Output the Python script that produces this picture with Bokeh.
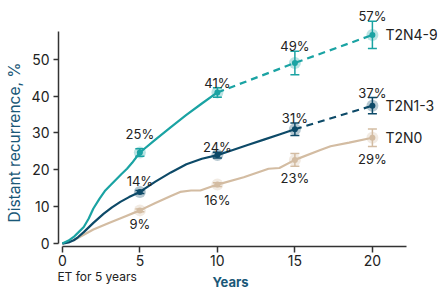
import math
from bokeh.plotting import figure
from bokeh.models import (ColumnDataSource, Whisker, TeeHead, Title, FixedTicker, Range1d,
                          LinearAxis)
from bokeh.core.properties import value
from bokeh.embed import file_html
from bokeh.resources import INLINE

# ---------------- data ----------------
mark_years = [5, 10, 15, 20]

n49_mark = [24.7, 41.0, 49.0, 56.6]
n49_err = [1.0, 1.3, 3.2, 3.7]
n49_text = ["25%", "41%", "49%", "57%"]

n13_mark = [14.0, 24.0, 31.0, 37.4]
n13_err = [0.4, 0.8, 1.7, 2.2]
n13_text = ["14%", "24%", "31%", "37%"]

n0_mark = [9.0, 16.0, 22.7, 28.7]
n0_err = [0.4, 0.5, 1.7, 2.4]
n0_text = ["9%", "16%", "23%", "29%"]

n49_t = [0, 0.4, 0.73, 1.0, 1.38, 1.7, 2.0, 2.4, 2.77, 3.1, 3.42, 3.8, 4.17, 4.5, 5, 6, 7, 8, 9, 10]
n49_v = [0, 0.8, 1.8, 2.9, 4.5, 6.8, 9.5, 12.2, 14.4, 15.8, 17.2, 18.8, 20.3, 21.9, 24.7, 28.2, 31.6, 34.9, 38.0, 41.0]
n49_dash_t = [10, 15, 20]
n49_dash_v = [41.0, 49.0, 56.6]

n13_t = [0, 0.4, 0.73, 1.0, 1.38, 2.0, 2.67, 3.2, 3.74, 4.3, 5, 6, 7, 8, 9, 10, 11, 12, 13, 14, 15]
n13_v = [0, 0.3, 0.9, 1.7, 3.1, 5.6, 8.1, 9.8, 11.3, 12.6, 14.0, 16.8, 19.3, 21.5, 23.0, 24.0, 25.4, 26.8, 28.2, 29.6, 31.0]
n13_dash_t = [15, 20]
n13_dash_v = [31.0, 37.4]

n0_t = [0, 0.73, 2, 3, 4, 5, 6, 7, 7.6, 8.3, 8.9, 10, 11.7, 13.3, 14, 15, 16.6, 17.3, 18.5, 20]
n0_v = [0, 0.9, 3.8, 5.6, 7.3, 9.0, 11.0, 12.9, 14.0, 14.4, 14.4, 16.0, 18.0, 20.3, 20.5, 22.7, 25.3, 26.4, 27.4, 28.7]

series_names = ["T2N4-9", "T2N1-3", "T2N0"]
x_ticks = [0, 5, 10, 15, 20]
y_ticks = [0, 10, 20, 30, 40, 50]
note_text = "ET for 5 years"
x_title = "Years"
y_title = "Distant recurrence, %"

# ---------------- style ----------------
TEAL = "#1aa3a3"
NAVY = "#0d4a68"
TAN = "#d3bca2"
TITLE_C = "#1a5878"
TXT = "#222222"
FONT = "Inter"
NOTE_POS = 2.24
# extra upward nudge (px) of the percentage labels
n49_lift = [10, 0, 0, 0]
n13_lift = [4, 0, 0, 0]
n0_lift = [0, -2, 0, 0]

p = figure(width=439, height=294, output_backend="svg", toolbar_location=None,
           x_range=Range1d(-0.25, 24.2), y_range=Range1d(-0.8, 65.4),
           min_border_left=58, min_border_right=2, min_border_top=2, min_border_bottom=48)
p.outline_line_color = None
p.xgrid.visible = False
p.ygrid.visible = False
p.background_fill_color = "white"
p.border_fill_color = "white"

for ax in (p.xaxis[0], p.yaxis[0]):
    ax.axis_line_color = "#333333"
    ax.axis_line_width = 1.5
    ax.major_tick_line_color = "#333333"
    ax.major_tick_line_width = 1.5
    ax.minor_tick_line_color = None
    ax.major_tick_in = 0
    ax.major_label_text_font = FONT
    ax.major_label_text_font_size = "14px"
    ax.major_label_text_color = TXT

p.xaxis[0].ticker = FixedTicker(ticks=x_ticks)
p.yaxis[0].ticker = FixedTicker(ticks=y_ticks)
p.xaxis[0].bounds = (0, 22.2)
p.yaxis[0].bounds = (0, 57.5)
p.xaxis[0].major_tick_out = 6
p.yaxis[0].major_tick_out = 5
p.xaxis[0].major_label_standoff = 2
p.yaxis[0].major_label_standoff = 4

# note under the x axis as a second, line-less axis
note_ax = LinearAxis(ticker=FixedTicker(ticks=[NOTE_POS]),
                     major_label_overrides={NOTE_POS: note_text})
note_ax.axis_line_color = None
note_ax.major_tick_line_color = None
note_ax.minor_tick_line_color = None
note_ax.major_tick_out = 0
note_ax.major_tick_in = 0
note_ax.major_label_standoff = 0
note_ax.major_label_text_font = FONT
note_ax.major_label_text_font_size = "12px"
note_ax.major_label_text_color = TXT
p.add_layout(note_ax, "below")

p.add_layout(Title(text=x_title, align="left", offset=154, vertical_align="top",
                   text_font=FONT, text_font_size="13px", text_font_style="bold",
                   text_color=TITLE_C, standoff=-26), "below")
p.add_layout(Title(text=y_title, align="left", offset=24, vertical_align="top",
                   text_font=FONT, text_font_size="15.5px", text_font_style="normal",
                   text_color=TITLE_C, standoff=6), "left")

# curves
p.line(n0_t, n0_v, line_color=TAN, line_width=2.2)
p.line(n13_t, n13_v, line_color=NAVY, line_width=2.2)
p.line(n13_dash_t, n13_dash_v, line_color=NAVY, line_width=2.2, line_dash="7 5")
p.line(n49_t, n49_v, line_color=TEAL, line_width=2.2)
p.line(n49_dash_t, n49_dash_v, line_color=TEAL, line_width=2.2, line_dash="7 5")

groups = [
    (n49_mark, n49_err, n49_text, n49_lift, TEAL, "above"),
    (n13_mark, n13_err, n13_text, n13_lift, NAVY, "above"),
    (n0_mark, n0_err, n0_text, n0_lift, TAN, "below"),
]

for marks, errs, texts, lift, col, where in groups:
    src = ColumnDataSource(dict(
        x=mark_years, y=marks,
        upper=[m + e for m, e in zip(marks, errs)],
        lower=[m - e for m, e in zip(marks, errs)],
        txt=texts,
        off_up=[-5 - l for l in lift],
        off_dn=[4 - l for l in lift]))
    w = Whisker(source=src, base="x", upper="upper", lower="lower", dimension="height",
                line_color=col, line_width=1.5,
                upper_head=TeeHead(size=9, line_color=col, line_width=1.5),
                lower_head=TeeHead(size=9, line_color=col, line_width=1.5))
    p.add_layout(w)
    p.scatter("x", "y", source=src, size=12, fill_color=col, fill_alpha=0.3, line_color=None)
    p.scatter("x", "y", source=src, size=6, fill_color=col, line_color=None)
    if where == "above":
        p.text("x", "upper", text="txt", source=src, text_align="center",
               text_baseline="alphabetic", y_offset="off_up", text_font=value(FONT),
               text_font_size="13px", text_color=TXT)
    else:
        p.text("x", "lower", text="txt", source=src, text_align="center",
               text_baseline="top", y_offset="off_dn", text_font=value(FONT),
               text_font_size="13px", text_color=TXT)

# series labels at the right end
end_src = ColumnDataSource(dict(x=[mark_years[-1]] * 3,
                                y=[n49_mark[-1], n13_mark[-1], n0_mark[-1]],
                                t=series_names))
p.text("x", "y", text="t", source=end_src, x_offset=13, text_align="left",
       text_baseline="middle", text_font=value(FONT), text_font_size="14px", text_color=TXT)

open("out.html", "w").write(file_html(p, INLINE))
